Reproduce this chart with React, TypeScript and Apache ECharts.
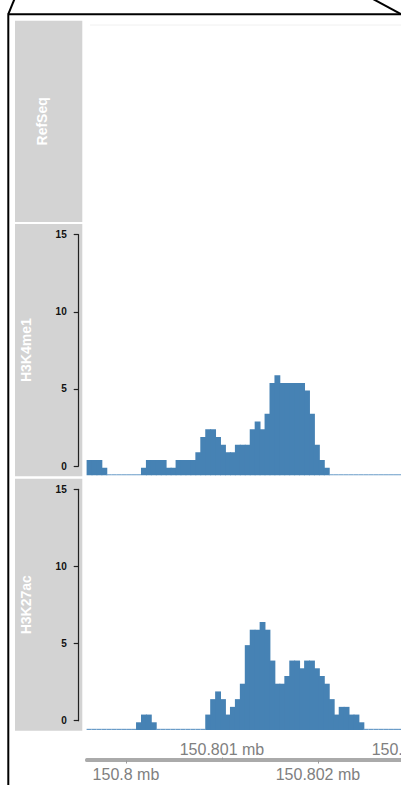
import React, { useEffect, useRef } from "react";
import * as echarts from "echarts";

const trackNames = ["RefSeq", "H3K4me1", "H3K27ac"];
const yTicks = [0, 5, 10, 15];
const regionStart = 150799590;
const regionEnd = 150803480;
const binSize = 51.5;
const lowerTicks = [150800000, 150802000];
const upperTicks = [150801000, 150803000];

const h3k4me1 = [
  1, 1, 1, 0.5, 0, 0, 0, 0, 0, 0, 0, 0.5, 1, 1, 1, 1, 0.5, 0.5, 1, 1,
  1, 1, 1.5, 2.5, 3, 3, 2.5, 2, 1.5, 1.5, 2, 2, 2, 3, 3.5, 3, 4, 6, 6.5, 6,
  6, 6, 6, 6, 5.5, 4, 2, 1, 0.5, 0, 0, 0, 0, 0, 0, 0, 0, 0, 0, 0,
  0, 0, 0, 0, 0, 0, 0, 0, 0, 0, 0, 0, 0, 0, 0, 0,
];
const h3k27ac = [
  0, 0, 0, 0, 0, 0, 0, 0, 0, 0, 0.5, 1, 1, 0.5, 0, 0, 0, 0, 0, 0,
  0, 0, 0, 0, 1, 2, 2.5, 2, 1, 1.5, 2, 3, 5.5, 6.5, 6.5, 7, 6.5, 4.5, 3, 3,
  3.5, 4.5, 4.5, 4, 4.5, 4.5, 4, 3.5, 3, 2, 1, 1.5, 1.5, 1, 1, 0.5, 0, 0, 0, 0,
  0, 0, 0, 0, 0, 0, 0, 0, 0, 0, 0, 0, 0, 0, 0, 0,
];

const FONT = "'Liberation Sans', Arial, Helvetica, sans-serif";
const BAR = "#4682b4";
const PANEL = "#d3d3d3";

const toBins = (vals: number[]) =>
  vals.map((v, i) => [regionStart + i * binSize, regionStart + (i + 1) * binSize, v]);

const renderBin = (_params: any, api: any) => {
  const s = api.value(0);
  const e = api.value(1);
  const v = api.value(2);
  const p0 = api.coord([s, v]);
  const p1 = api.coord([e, 0]);
  let h = p1[1] - p0[1];
  const zero = h < 1.2;
  if (zero) h = 1.2;
  return {
    type: "rect",
    shape: { x: p0[0], y: p1[1] - h, width: p1[0] - p0[0] + (zero ? 0 : 0.9), height: h },
    style: { fill: zero ? "#6a9cc8" : BAR },
  };
};

export default function App() {
  const ref = useRef<HTMLDivElement>(null);
  useEffect(() => {
    if (!ref.current) return;
    const chart = echarts.init(ref.current, undefined, { renderer: "svg" });
    const plotLeft = 86.6;
    const plotWidth = (regionEnd - regionStart) * 0.096;
    const trackTops = [234.7, 489.3];
    const axisHeights = [231.3, 231.4];
    const barBottoms = [475.5, 730];

    const grids: any[] = [];
    const xAxes: any[] = [];
    const yAxes: any[] = [];
    const series: any[] = [];
    const dataSets = [h3k4me1, h3k27ac];

    dataSets.forEach((vals, t) => {
      grids.push({ left: plotLeft, top: trackTops[t], width: plotWidth, height: barBottoms[t] - trackTops[t] });
      xAxes.push({ type: "value", gridIndex: grids.length - 1, min: regionStart, max: regionEnd, show: false });
      yAxes.push({ type: "value", gridIndex: grids.length - 1, min: 0, max: 15.6, show: false });
      series.push({
        type: "custom",
        xAxisIndex: xAxes.length - 1,
        yAxisIndex: yAxes.length - 1,
        clip: true,
        renderItem: renderBin,
        encode: { x: [0, 1], y: 2 },
        data: toBins(vals),
      });
      grids.push({ left: 78.7, top: trackTops[t], width: 1, height: axisHeights[t] });
      xAxes.push({ type: "value", gridIndex: grids.length - 1, min: 0, max: 1, show: false });
      yAxes.push({
        type: "value",
        gridIndex: grids.length - 1,
        min: yTicks[0],
        max: yTicks[yTicks.length - 1],
        interval: 5,
        position: "left",
        axisLine: { show: true, lineStyle: { color: "#222", width: 1.2 } },
        axisTick: { show: true, length: 5, lineStyle: { color: "#222", width: 1.2 } },
        splitLine: { show: false },
        axisLabel: { margin: 12, color: "#111", fontSize: 10, fontWeight: "bold", fontFamily: FONT },
      });
    });

    grids.push({ left: plotLeft, top: 759.5, width: plotWidth, height: 1 });
    const gi = grids.length - 1;
    const fmt = (v: number) => `${v / 1e6} mb`;
    xAxes.push({
      type: "value",
      gridIndex: gi,
      position: "bottom",
      min: regionStart,
      max: regionEnd,
      axisLine: { show: true, lineStyle: { color: "#aaaaaa", width: 3 } },
      axisTick: { show: true, length: 3, customValues: lowerTicks, lineStyle: { color: "#999", width: 1 } },
      splitLine: { show: false },
      axisLabel: { customValues: lowerTicks, formatter: fmt, margin: 6, color: "#808080", fontSize: 16, fontFamily: FONT },
    });
    xAxes.push({
      type: "value",
      gridIndex: gi,
      position: "top",
      min: regionStart,
      max: regionEnd,
      axisLine: { show: true, lineStyle: { color: "#aaaaaa", width: 3 } },
      axisTick: { show: true, length: 2, customValues: upperTicks, lineStyle: { color: "#999", width: 1 } },
      splitLine: { show: false },
      axisLabel: { customValues: upperTicks, formatter: fmt, margin: 2.5, color: "#808080", fontSize: 16, fontFamily: FONT },
    });
    yAxes.push({ type: "value", gridIndex: gi, min: 0, max: 1, show: false });

    const panels = [
      [20.7, 222],
      [224, 476.3],
      [478.7, 730.7],
    ];
    const labelX = [41.5, 26, 26];
    const labelSize = [14, 14, 14];

    const graphic: any[] = [];
    panels.forEach((p, i) => {
      graphic.push({ type: "rect", shape: { x: 15, y: p[0], width: 67.3, height: p[1] - p[0] }, style: { fill: PANEL } });
      graphic.push({
        type: "text",
        x: labelX[i],
        y: (p[0] + p[1]) / 2,
        rotation: Math.PI / 2,
        style: {
          text: trackNames[i],
          fill: "#ffffff",
          font: `bold ${labelSize[i]}px ${FONT}`,
          align: "center",
          verticalAlign: "middle",
        },
      });
    });
    graphic.push({ type: "line", shape: { x1: 90, y1: 25, x2: 460, y2: 25 }, style: { stroke: "#f0f0f0", lineWidth: 1 } });
    graphic.push({ type: "line", shape: { x1: 8.3, y1: 14.2, x2: 460, y2: 14.2 }, style: { stroke: "#000", lineWidth: 2 } });
    graphic.push({ type: "line", shape: { x1: 8.3, y1: 13.5, x2: 8.3, y2: 790 }, style: { stroke: "#000", lineWidth: 2 } });
    graphic.push({ type: "line", shape: { x1: 8.3, y1: 14.2, x2: 14.5, y2: -1 }, style: { stroke: "#000", lineWidth: 2 } });
    graphic.push({ type: "line", shape: { x1: 401, y1: 14.2, x2: 373, y2: -1 }, style: { stroke: "#000", lineWidth: 2 } });

    chart.setOption({
      animation: false,
      backgroundColor: "#ffffff",
      grid: grids,
      xAxis: xAxes,
      yAxis: yAxes,
      series,
      graphic,
    });
    return () => chart.dispose();
  }, []);

  return (
    <div style={{ position: "fixed", left: 0, top: 0, width: 401, height: 785, overflow: "hidden", background: "#fff" }}>
      <div ref={ref} style={{ width: 460, height: 785 }} />
    </div>
  );
}
